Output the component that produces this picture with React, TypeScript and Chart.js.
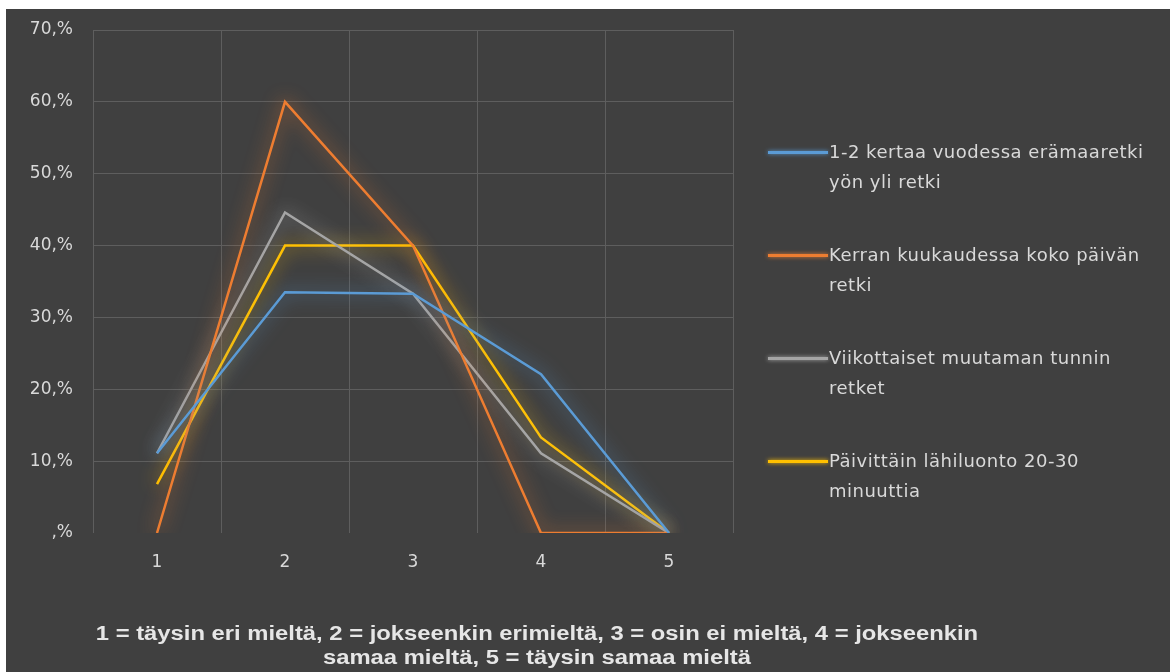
import React, { useEffect, useRef } from "react";
import { Chart, registerables } from "chart.js";

Chart.register(...registerables);

const categories = ["1", "2", "3", "4", "5"];
const seriesLabels = [
  ["1-2 kertaa vuodessa erämaaretki", "yön yli retki"],
  ["Kerran kuukaudessa koko päivän", "retki"],
  ["Viikottaiset muutaman tunnin", "retket"],
  ["Päivittäin lähiluonto 20-30", "minuuttia"],
];
const blueValues = [11.1, 33.5, 33.3, 22.1, 0];
const orangeValues = [0, 60.0, 40.0, 0, 0];
const grayValues = [11.1, 44.6, 33.3, 11.1, 0];
const yellowValues = [6.8, 40.0, 40.0, 13.3, 0];
const yTickLabels = [",%", "10,%", "20,%", "30,%", "40,%", "50,%", "60,%", "70,%"];
const captionLines = [
  "1 = täysin eri mieltä, 2 = jokseenkin erimieltä, 3 = osin ei mieltä, 4 = jokseenkin",
  "samaa mieltä, 5 = täysin samaa mieltä",
];

const colors = ["#5b9bd5", "#ed7d31", "#a5a5a5", "#ffc000"];
const glowColors = [
  "rgba(91,155,213,0.95)",
  "rgba(237,125,49,0.95)",
  "rgba(200,200,200,0.8)",
  "rgba(255,192,0,0.95)",
];

const glowPlugin = {
  id: "glow",
  beforeDatasetDraw(chart: any, args: any) {
    const ctx = chart.ctx;
    ctx.save();
    ctx.shadowColor = glowColors[args.index];
    ctx.shadowBlur = 18;
  },
  afterDatasetDraw(chart: any) {
    chart.ctx.restore();
  },
};

const tickFont = { family: "'DejaVu Sans'", size: 17 };

export default function App() {
  const ref = useRef<HTMLCanvasElement | null>(null);
  useEffect(() => {
    if (!ref.current) return;
    const all = [blueValues, orangeValues, grayValues, yellowValues];
    const chart = new Chart(ref.current, {
      type: "line",
      data: {
        labels: categories,
        datasets: all.map((vals, i) => ({
          label: seriesLabels[i].join(" "),
          data: vals,
          borderColor: colors[i],
          backgroundColor: colors[i],
          borderWidth: 2.5,
          pointRadius: 0,
          tension: 0,
          fill: false,
        })),
      },
      options: {
        animation: false,
        responsive: false,
        maintainAspectRatio: false,
        layout: { padding: { left: 0, right: 437, top: 21, bottom: 0 } },
        plugins: {
          legend: { display: false },
          tooltip: { enabled: false },
          title: { display: false },
        },
        scales: {
          x: {
            offset: true,
            grid: {
              offset: true,
              color: "#5e5e5e",
              lineWidth: 1,
              drawTicks: false,
            },
            border: { display: false },
            ticks: {
              color: "#d9d9d9",
              font: tickFont,
              padding: 19,
            },
            afterFit(scale: any) {
              scale.height = 139;
            },
          },
          y: {
            min: 0,
            max: 70,
            grid: {
              color: (c: any) => (c.tick && c.tick.value === 0 ? "rgba(0,0,0,0)" : "#5e5e5e"),
              lineWidth: 1,
              drawTicks: false,
            },
            border: { display: false },
            ticks: {
              stepSize: 10,
              color: "#d9d9d9",
              font: tickFont,
              padding: 20,
              callback: (v: any) => yTickLabels[Math.round(Number(v) / 10)],
            },
            afterFit(scale: any) {
              scale.width = 87;
              scale.paddingTop = 0;
              scale.paddingBottom = 0;
            },
          },
        },
      },
      plugins: [glowPlugin],
    });
    return () => chart.destroy();
  }, []);

  const legendTops = [128, 231, 334, 437];

  return (
    <div
      style={{
        position: "fixed",
        left: 6,
        top: 9,
        width: 1164,
        height: 663,
        background: "#404040",
        overflow: "hidden",
      }}
    >
      <canvas ref={ref} width={1164} height={663} style={{ display: "block" }} />
      {seriesLabels.map((lines, i) => (
        <div
          key={i}
          style={{
            position: "absolute",
            left: 762,
            top: legendTops[i],
            display: "flex",
            alignItems: "flex-start",
          }}
        >
          <div
            style={{
              width: 60,
              height: 3,
              marginTop: 14,
              background: colors[i],
              boxShadow: `0 0 4px ${glowColors[i]}`,
            }}
          />
          <div
            style={{
              fontFamily: "'DejaVu Sans', sans-serif",
              fontSize: 18,
              letterSpacing: "0.5px",
              lineHeight: "30px",
              color: "#d9d9d9",
              marginLeft: 1,
              whiteSpace: "nowrap",
            }}
          >
            {lines.map((l, j) => (
              <div key={j}>{l}</div>
            ))}
          </div>
        </div>
      ))}
      <div
        style={{
          position: "absolute",
          left: 0,
          top: 612,
          width: 1062,
          textAlign: "center",
          fontFamily: "'Liberation Sans', Arial, sans-serif",
          fontWeight: "bold",
          fontSize: 20,
          lineHeight: "24px",
          color: "#e6e6e6",
          transform: "scaleX(1.19)",
          transformOrigin: "531px 0",
        }}
      >
        {captionLines.map((l, j) => (
          <div key={j}>{l}</div>
        ))}
      </div>
    </div>
  );
}
